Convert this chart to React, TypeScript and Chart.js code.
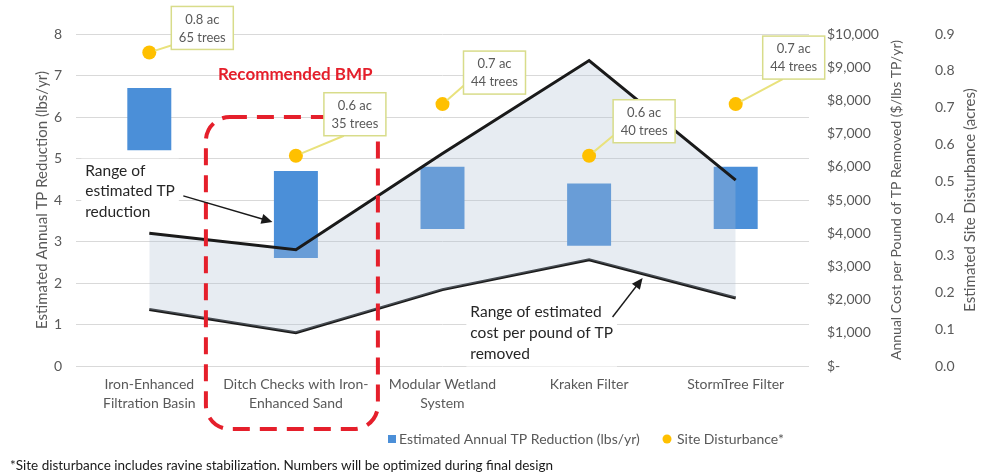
import React, { useEffect, useRef } from "react";
import { Chart, registerables } from "chart.js";

Chart.register(...registerables);

// ---------- data ----------
const categories: string[][] = [
  ["Iron-Enhanced", "Filtration Basin"],
  ["Ditch Checks with Iron-", "Enhanced Sand"],
  ["Modular Wetland", "System"],
  ["Kraken Filter"],
  ["StormTree Filter"],
];
const tpReductionLow = [5.2, 2.6, 3.3, 2.9, 3.3];
const tpReductionHigh = [6.7, 4.7, 4.8, 4.4, 4.8];
const costHigh = [4000, 3500, 6400, 9200, 5600];
const costLow = [1700, 1000, 2300, 3200, 2050];
const siteDisturbance = [0.85, 0.57, 0.71, 0.57, 0.71];
const disturbanceLabels = ["0.8 ac", "0.6 ac", "0.7 ac", "0.6 ac", "0.7 ac"];
const treeLabels = ["65 trees", "35 trees", "44 trees", "40 trees", "44 trees"];
const tpTicks = ["0", "1", "2", "3", "4", "5", "6", "7", "8"];
const costTicks = ["$-", "$1,000", "$2,000", "$3,000", "$4,000", "$5,000", "$6,000", "$7,000", "$8,000", "$9,000", "$10,000"];
const acresTicks = ["0.0", "0.1", "0.2", "0.3", "0.4", "0.5", "0.6", "0.7", "0.8", "0.9"];

// ---------- styles / layout ----------
const FONT = "Lato, 'Open Sans', sans-serif";
const GRAY = "#595959";
const TEXT = "#262626";
const BAR = "#4B8FD8";
const GOLD = "#FFC000";
const RED = "#E51F2B";

const calloutLayout = [
  { dx: 22, dy: -46, ax: 3, ay: 38 },
  { dx: 28, dy: -63, ax: 20, ay: 43 },
  { dx: 21, dy: -53, ax: 2, ay: 33 },
  { dx: 24, dy: -56, ax: 0, ay: 36 },
  { dx: 27, dy: -68, ax: 20, ay: 43 },
];

function vText(ctx: CanvasRenderingContext2D, text: string, x: number, y: number) {
  ctx.save();
  ctx.translate(x, y);
  ctx.rotate(-Math.PI / 2);
  ctx.textAlign = "center";
  ctx.textBaseline = "middle";
  ctx.fillText(text, 0, 0);
  ctx.restore();
}

function textBox(ctx: CanvasRenderingContext2D, lines: string[], x: number, y: number, lh: number, size: number) {
  ctx.font = `${size}px ${FONT}`;
  const w = Math.max(...lines.map((l) => ctx.measureText(l).width));
  ctx.fillStyle = "#ffffff";
  ctx.fillRect(x - 4, y - lh / 2 - 2, w + 8, lh * lines.length + 4);
  ctx.fillStyle = TEXT;
  ctx.textAlign = "left";
  ctx.textBaseline = "middle";
  lines.forEach((l, i) => ctx.fillText(l, x, y + i * lh));
}

function arrow(ctx: CanvasRenderingContext2D, x1: number, y1: number, x2: number, y2: number) {
  const a = Math.atan2(y2 - y1, x2 - x1);
  const c = Math.cos(a), s = Math.sin(a);
  const hl = 11, hw = 5;
  ctx.strokeStyle = "#1a1a1a";
  ctx.fillStyle = "#1a1a1a";
  ctx.lineWidth = 1.4;
  ctx.beginPath();
  ctx.moveTo(x1, y1);
  ctx.lineTo(x2 - hl * c * 0.8, y2 - hl * s * 0.8);
  ctx.stroke();
  ctx.beginPath();
  ctx.moveTo(x2, y2);
  ctx.lineTo(x2 - hl * c + hw * s, y2 - hl * s - hw * c);
  ctx.lineTo(x2 - hl * c - hw * s, y2 - hl * s + hw * c);
  ctx.closePath();
  ctx.fill();
}

const overlayPlugin = {
  id: "overlay",
  afterDraw(chart: any) {
    const { ctx, chartArea: ca, scales } = chart;
    const xs = scales.x, ys = scales.y;
    const X = (v: number) => xs.getPixelForValue(v);
    const Y = (v: number) => ys.getPixelForValue(v);
    const midY = (ca.top + ca.bottom) / 2;
    ctx.save();

    // axis titles
    ctx.fillStyle = GRAY;
    ctx.font = `15px ${FONT}`;
    vText(ctx, "Estimated Annual TP Reduction (lbs/yr)", ca.left - 34, midY);
    vText(ctx, "Estimated Site Disturbance (acres)", scales.acres.left + 55, midY);
    ctx.font = `14px ${FONT}`;
    vText(ctx, "Annual Cost per Pound of TP Removed ($/lbs TP/yr)", scales.cost.left + 87, midY);

    // recommended box
    const cx = X(1);
    const l = cx - 90, r = cx + 82, t = Y(6), b = ca.bottom + 63;
    ctx.strokeStyle = RED;
    ctx.lineWidth = 4;
    ctx.setLineDash([17, 10]);
    ctx.beginPath();
    ctx.roundRect(l, t, r - l, b - t, 24);
    ctx.stroke();
    ctx.setLineDash([]);
    ctx.fillStyle = RED;
    ctx.font = `bold 17px ${FONT}`;
    ctx.textAlign = "left";
    ctx.textBaseline = "middle";
    ctx.fillText("Recommended BMP", l + 12, Y(7.03));

    // range annotations
    textBox(ctx, ["Range of", "estimated TP", "reduction"], X(-0.437), Y(4.7), 20.5, 15.5);
    arrow(ctx, X(0.232), Y(4.1), X(0.84), Y(3.47));
    textBox(ctx, ["Range of estimated", "cost per pound of TP", "removed"], X(2.19), Y(1.3), 21, 15.5);
    arrow(ctx, X(3.16), Y(1.18), X(3.365), Y(2.12));

    // callouts
    const meta = chart.getDatasetMeta(3);
    meta.data.forEach((pt: any, i: number) => {
      const L = calloutLayout[i];
      const bw = 62, bh = 43;
      const bx = pt.x + L.dx, by = pt.y + L.dy;
      const ex = bx + L.ax, ey = by + L.ay;
      const ang = Math.atan2(ey - pt.y, ex - pt.x);
      ctx.strokeStyle = "#E9E27C";
      ctx.lineWidth = 2;
      ctx.beginPath();
      ctx.moveTo(pt.x + Math.cos(ang) * 6, pt.y + Math.sin(ang) * 6);
      ctx.lineTo(ex, ey);
      ctx.stroke();
      ctx.fillStyle = "#ffffff";
      ctx.fillRect(bx, by, bw, bh);
      ctx.strokeStyle = "#D8DC8A";
      ctx.lineWidth = 1.5;
      ctx.strokeRect(bx, by, bw, bh);
      ctx.fillStyle = GRAY;
      ctx.font = `13px ${FONT}`;
      ctx.textAlign = "center";
      ctx.textBaseline = "middle";
      ctx.fillText(disturbanceLabels[i], bx + bw / 2, by + 13);
      ctx.fillText(treeLabels[i], bx + bw / 2, by + 31);
    });

    // legend
    const ly = ca.bottom + 73;
    ctx.fillStyle = BAR;
    ctx.fillRect(388, ly - 4, 8, 8);
    ctx.fillStyle = GRAY;
    ctx.font = `14px ${FONT}`;
    ctx.textAlign = "left";
    ctx.textBaseline = "middle";
    ctx.fillText("Estimated Annual TP Reduction (lbs/yr)", 399, ly);
    ctx.fillStyle = GOLD;
    ctx.beginPath();
    ctx.arc(667, ly, 4.5, 0, Math.PI * 2);
    ctx.fill();
    ctx.fillStyle = GRAY;
    ctx.fillText("Site Disturbance*", 677, ly);

    // footnote
    ctx.fillStyle = "#1a1a1a";
    ctx.font = `13.5px ${FONT}`;
    ctx.fillText("*Site disturbance includes ravine stabilization. Numbers will be optimized during final design", 10, 466);

    ctx.restore();
  },
};

export default function App() {
  const ref = useRef<HTMLCanvasElement>(null);
  useEffect(() => {
    Chart.defaults.font.family = FONT;
    const tickFont = { size: 14, family: FONT };
    const chart = new Chart(ref.current as HTMLCanvasElement, {
      type: "bar",
      data: {
        labels: categories,
        datasets: [
          {
            type: "bar",
            label: "Estimated Annual TP Reduction (lbs/yr)",
            data: tpReductionLow.map((lo, i) => [lo, tpReductionHigh[i]]) as any,
            backgroundColor: BAR,
            yAxisID: "y",
            order: 3,
            barPercentage: 0.3,
            categoryPercentage: 1,
          },
          {
            type: "line",
            label: "Cost high",
            data: costHigh,
            yAxisID: "cost",
            borderColor: "#1a1a1a",
            borderWidth: 3,
            borderJoinStyle: "miter",
            pointRadius: 0,
            tension: 0,
            fill: "+1",
            backgroundColor: "rgba(176,192,212,0.3)",
            order: 2,
          },
          {
            type: "line",
            label: "Cost low",
            data: costLow,
            yAxisID: "cost",
            borderColor: "#1a1a1a",
            borderWidth: 3,
            borderJoinStyle: "miter",
            pointRadius: 0,
            tension: 0,
            fill: false,
            order: 2,
          },
          {
            type: "line",
            label: "Site Disturbance*",
            data: siteDisturbance,
            yAxisID: "acres",
            showLine: false,
            pointRadius: 7,
            pointBackgroundColor: GOLD,
            pointBorderWidth: 0,
            order: 0,
          },
        ],
      },
      options: {
        responsive: false,
        animation: false,
        layout: { padding: { top: 34, left: 0, right: 0, bottom: 0 } },
        plugins: { legend: { display: false }, tooltip: { enabled: false } },
        scales: {
          x: {
            offset: true,
            grid: { display: false, drawTicks: false },
            border: { display: false },
            ticks: {
              color: GRAY,
              font: { ...tickFont, lineHeight: 1.35 },
              padding: 9.5,
              maxRotation: 0,
              minRotation: 0,
              autoSkip: false,
            },
            afterFit: (s: any) => {
              s.height = 109;
            },
          },
          y: {
            position: "left",
            min: 0,
            max: 8,
            ticks: { stepSize: 1, color: GRAY, font: tickFont, padding: 14, callback: (_v: any, i: number) => tpTicks[i] },
            grid: { color: "#D9D9D9", lineWidth: 1, drawTicks: false },
            border: { display: false },
            afterFit: (s: any) => {
              s.width = 76;
            },
          },
          cost: {
            position: "right",
            weight: 1,
            min: 0,
            max: 10000,
            ticks: { stepSize: 1000, color: GRAY, font: tickFont, padding: 18, callback: (_v: any, i: number) => costTicks[i] },
            grid: { display: false, drawTicks: false },
            border: { display: false },
            afterFit: (s: any) => {
              s.width = 106;
            },
          },
          acres: {
            position: "right",
            weight: 2,
            min: 0,
            max: 0.9,
            ticks: { stepSize: 0.1, color: GRAY, font: tickFont, padding: 20, callback: (_v: any, i: number) => acresTicks[i] },
            grid: { display: false, drawTicks: false },
            border: { display: false },
            afterFit: (s: any) => {
              s.width = 68;
            },
          },
        },
      } as any,
      plugins: [overlayPlugin],
    });
    return () => chart.destroy();
  }, []);
  return (
    <div style={{ position: "absolute", left: 0, top: 0, width: 983, height: 475, background: "#fff" }}>
      <canvas ref={ref} width={983} height={475} style={{ display: "block" }} />
    </div>
  );
}
